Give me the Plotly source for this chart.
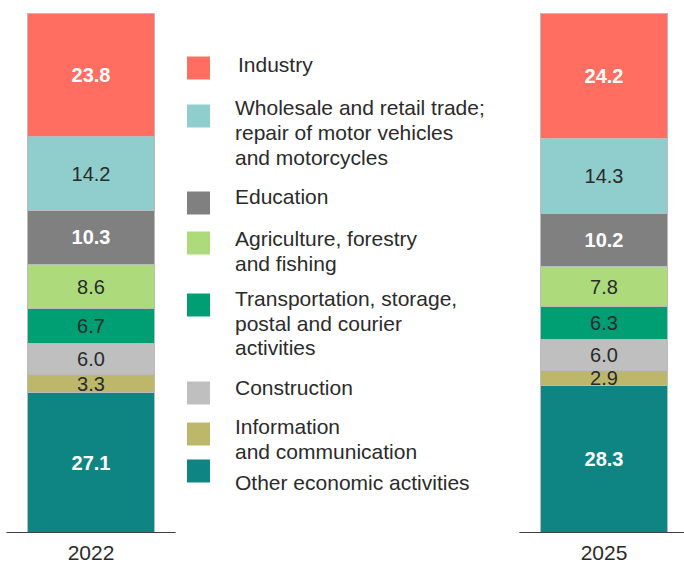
import plotly.graph_objects as go

# Data: sectors from bottom of the stack to top
sectors = [
    "Other economic activities",
    "Information<br>and communication",
    "Construction",
    "Transportation, storage,<br>postal and courier<br>activities",
    "Agriculture, forestry<br>and fishing",
    "Education",
    "Wholesale and retail trade;<br>repair of motor vehicles<br>and motorcycles",
    "Industry",
]
years = ["2022", "2025"]
values_2022 = [27.1, 3.3, 6.0, 6.7, 8.6, 10.3, 14.2, 23.8]
values_2025 = [28.3, 2.9, 6.0, 6.3, 7.8, 10.2, 14.3, 24.2]
colors = ["#0E8583", "#BDB76B", "#BFBFBF", "#009E73", "#ADDB7B", "#808080", "#90CECE", "#FF6E61"]
white_label = [True, False, False, False, False, True, False, True]

# legend layout: pixel centre of each square and of the first text line
legend_square_y = [471, 434, 393, 305, 243, 203, 116, 68]
legend_text_y = [482, 426, 387, 298, 238, 197, 107, 65]
LINE_GAP = 25

W, H = 684, 563
TOP, BOTTOM = 13, 533
FONT = "Liberation Sans, Arial, sans-serif"
DARK = "#2b2b2b"

fig = go.Figure()
xpos = [0, 1]
for i, name in enumerate(sectors):
    vals = [values_2022[i], values_2025[i]]
    fig.add_trace(go.Bar(
        x=xpos, y=vals, name=name, width=0.248,
        marker=dict(color=colors[i], line=dict(color="#BBBBBB", width=1)),
        text=[f"{v:.1f}" for v in vals],
        texttemplate="<b>%{text}</b>" if white_label[i] else "%{text}",
        textposition="inside", insidetextanchor="middle", textangle=0,
        textfont=dict(color="white" if white_label[i] else DARK, size=20, family=FONT),
        showlegend=False, hoverinfo="skip",
    ))

# separate baseline under each bar
for p in xpos:
    fig.add_shape(type="line", xref="x", yref="y", x0=p - 0.165, x1=p + 0.165, y0=0, y1=0,
                  line=dict(color="#404040", width=2))

# manual legend
def px_x(p):
    return p / W

def px_y(p):
    return (BOTTOM - p) / (BOTTOM - TOP)

for i, name in enumerate(sectors):
    sy = legend_square_y[i]
    fig.add_shape(type="rect", xref="paper", yref="paper",
                  x0=px_x(187), x1=px_x(210), y0=px_y(sy + 11.5), y1=px_y(sy - 11.5),
                  fillcolor=colors[i], line=dict(width=0))
    tx = 236 if name == "Industry" else 233
    for k, line in enumerate(name.split("<br>")):
        fig.add_annotation(xref="paper", yref="paper", x=px_x(tx),
                           y=px_y(legend_text_y[i] + k * LINE_GAP),
                           text=line, showarrow=False, xanchor="left", yanchor="middle",
                           font=dict(size=21, color=DARK, family=FONT))

fig.update_layout(
    barmode="stack",
    width=W, height=H,
    margin=dict(l=0, r=0, t=TOP, b=H - BOTTOM),
    plot_bgcolor="white", paper_bgcolor="white",
    uniformtext=dict(mode="show", minsize=20),
    xaxis=dict(range=[-91 / 513, 1 + 80 / 513], tickvals=xpos, ticktext=years,
               showgrid=False, zeroline=False, showline=False, ticks="",
               ticklabelstandoff=5, automargin=False,
               tickfont=dict(size=21, color=DARK, family=FONT)),
    yaxis=dict(range=[0, 100], visible=False, automargin=False),
    font=dict(family=FONT, color=DARK),
)

fig.write_html("out.html", config={"displayModeBar": False},
               post_script="document.body.style.margin='0';")
